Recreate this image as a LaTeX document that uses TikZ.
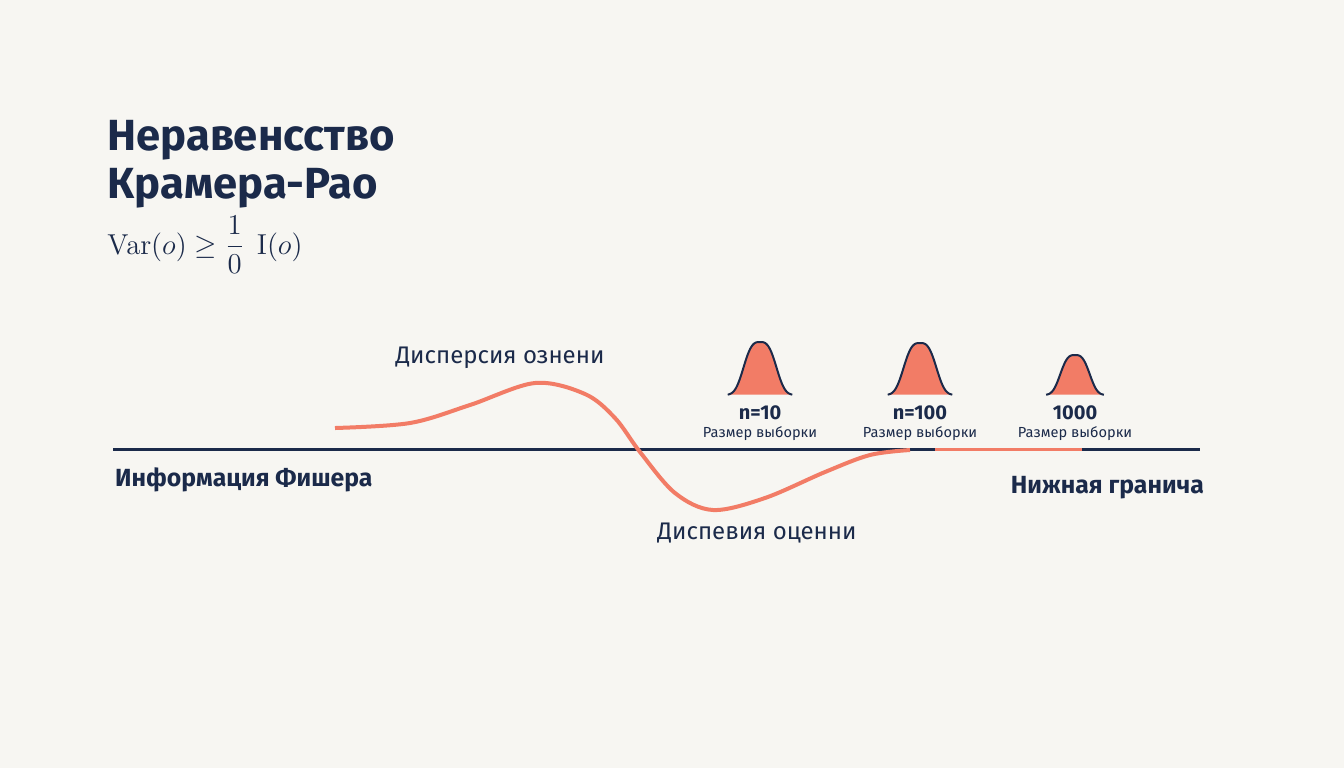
\documentclass[tikz,border=0pt]{standalone}
\usepackage[no-math]{fontspec}
\setmainfont{Fira Sans}
\definecolor{navyc}{HTML}{1B2A4A}
\definecolor{salmon}{HTML}{F27C66}
\definecolor{paper}{HTML}{F7F6F2}

\begin{document}
\begin{tikzpicture}[x=0.5pt, y=-0.5pt,
  title/.style={text=navyc, font=\fontsize{21.8}{24}\selectfont\bfseries, anchor=base west, inner sep=0},
  lbl/.style={text=navyc, font=\fontsize{12}{14}\selectfont},
  boldlbl/.style={text=navyc, font=\fontsize{12.4}{15}\selectfont\bfseries},
  numlbl/.style={text=navyc, font=\fontsize{10}{12}\selectfont\bfseries, inner sep=0},
  sizelbl/.style={text=navyc, font=\fontsize{7.3}{9}\selectfont, inner sep=0}]

\useasboundingbox[fill=paper] (0,0) rectangle (1344,768);

% title and formula
\node[title] (t1) at (107,150) {Неравенсство};
\node[title] (t2) at (107,198) {Крамера-Рао};
\node[text=navyc, anchor=base west, inner sep=0, font=\fontsize{15.3}{17}\selectfont] (frm) at (107,254)
  {$\mathrm{Var}(o) \geq \displaystyle\frac{1}{0}\;\, \mathrm{I}(o)$};

% axis
\coordinate (axL) at (113,449);
\coordinate (axR) at (1200,449);
\draw[navyc, line width=1.5pt] (axL) -- (axR);
\draw[salmon, line width=1.5pt] (935,449) -- (1082,449);

% variance curve
\draw[salmon, line width=2pt, smooth, tension=0.55] plot coordinates
  {(335,428) (410,423) (470,405) (535,383) (585,394) (615,418) (640,452) (675,493) (713,510) (765,498) (825,472) (870,455) (910,450)};

\node[lbl] (var1) at (500,358) {Дисперсия ознени};
\node[lbl] (var2) at (757,533) {Диспевия оценни};
\node[boldlbl, anchor=west] (fisher) at (108,480) {Информация Фишера};
\node[boldlbl, anchor=east] (bound) at (1211,488) {Нижная гранича};

% sample distributions
\foreach \c/\h/\w/\t/\nm in {760/53/19/n=10/a, 920/52/19/n=100/b, 1075/40/17/1000/c} {
  \fill[salmon, samples=70, smooth, domain=-1.7:1.7, variable=\x]
    plot ({\c+\w*(\x)}, {395-\h*exp(-abs(\x)^3)}) -- cycle;
  \draw[navyc, line width=1pt, samples=70, smooth, domain=-1.7:1.7, variable=\x]
    plot ({\c+\w*(\x)}, {395-\h*exp(-abs(\x)^3)});
  \node[numlbl] (n\nm) at (\c,413) {\t};
  \node[sizelbl] (s\nm) at (\c,434) {Размер выборки};
}

\end{tikzpicture}
\end{document}
